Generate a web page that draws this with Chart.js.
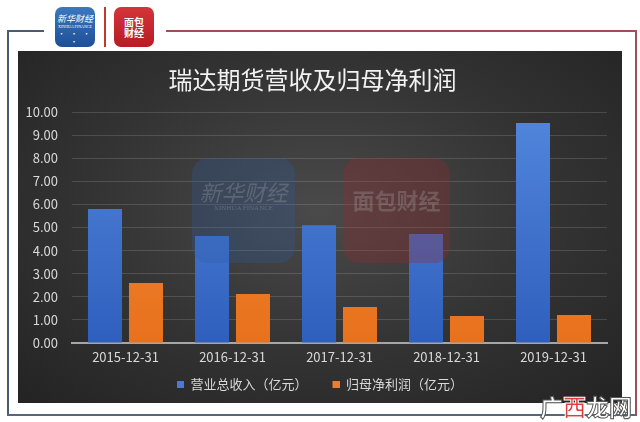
<!DOCTYPE html>
<html>
<head>
<meta charset="utf-8">
<script src="https://cdn.jsdelivr.net/npm/chart.js@4"></script>
<style>
  body { margin: 0; width: 640px; height: 422px; background: #fff; position: relative; overflow: hidden; font-family: "Noto Sans CJK SC", sans-serif; }
  .line { position: absolute; }
  .logo { position: absolute; border-radius: 7px; color: #fff; text-align: center; overflow: hidden; }
  .panel { position: absolute; left: 18px; top: 51px; width: 604px; height: 352px;
    background: radial-gradient(ellipse 70% 75% at 50% 45%, #4a4a4a 0%, #333 55%, #242424 100%); }
  .wm { position: absolute; border-radius: 16px; pointer-events: none; text-align: center; }
</style>
</head>
<body>
<!-- frame -->
<div class="line" style="left:7px;top:30px;width:37px;height:2px;background:#4a5d70"></div>
<div class="line" style="left:7px;top:30px;width:2px;height:386px;background:#4a5d70"></div>
<div class="line" style="left:7px;top:414px;width:630px;height:2px;background:#55687a"></div>
<div class="line" style="left:166px;top:30px;width:471px;height:2px;background:#a34d57"></div>
<div class="line" style="left:635px;top:30px;width:2px;height:386px;background:#a34d57"></div>
<div class="line" style="left:104px;top:7px;width:2px;height:40px;background:#c0392b"></div>

<!-- logos -->
<div class="logo" style="left:55px;top:7px;width:40px;height:40px;background:linear-gradient(#3a78c0,#1e4f96)">
  <div style="font-size:9px;font-style:italic;margin-top:7px;line-height:10px">新华财经</div>
  <div style="font-size:4px;line-height:5px;font-family:'Liberation Serif'">XINHUA FINANCE</div>
  <div style="font-size:7px;line-height:8px;letter-spacing:2px">· · · ·</div>
</div>
<div class="logo" style="left:114px;top:7px;width:40px;height:40px;background:linear-gradient(#d4343a,#b71c24)">
  <div style="font-size:10px;line-height:11px;margin-top:9px;font-weight:bold">面包</div>
  <div style="font-size:10px;line-height:11px;font-weight:bold">财经</div>
</div>

<div class="panel">
  <canvas id="myChart" width="604" height="352"></canvas>
</div>

<!-- watermarks over the chart -->
<div class="wm" style="left:192px;top:158px;width:103px;height:105px;background:rgba(45,95,165,0.28)">
  <div style="font-size:22px;margin-top:20px;line-height:26px;color:rgba(170,170,170,0.3);font-style:italic">新华财经</div>
  <div style="font-size:7px;line-height:9px;color:rgba(170,170,170,0.35);font-family:'Liberation Serif'">XINHUA FINANCE</div>
</div>
<div class="wm" style="left:343px;top:158px;width:107px;height:105px;background:rgba(150,40,45,0.32)">
  <div style="font-size:22px;margin-top:28px;line-height:26px;color:rgba(170,170,170,0.3);font-weight:bold">面包财经</div>
</div>
<div style="position:absolute;left:540px;top:393px;width:100px;white-space:nowrap;font-size:23px;line-height:26px;color:#fff;-webkit-text-stroke:1px #555;font-weight:bold">广<span style="color:#d8403a;-webkit-text-stroke:1px #fff">西</span>龙网</div>

<script>
let categories = ["2015-12-31", "2016-12-31", "2017-12-31", "2018-12-31", "2019-12-31"];
let revenue = [5.8, 4.63, 5.1, 4.72, 9.52];
let netProfit = [2.6, 2.12, 1.56, 1.17, 1.21];
let yTicks = [0, 1, 2, 3, 4, 5, 6, 7, 8, 9, 10];
let seriesNames = ["营业总收入（亿元）", "归母净利润（亿元）"];

// small square legend marker with blank space in front of it
makeMarker = (color) => {
  let c = document.createElement("canvas");
  c.width = 22;
  c.height = 7;
  let g = c.getContext("2d");
  g.fillStyle = color;
  g.fillRect(15, 0, 7, 7);
  return c;
};

barGradient = (top, bottom) => {
  return (context) => {
    let area = context.chart.chartArea;
    if (!area) return bottom;
    let g = context.chart.ctx.createLinearGradient(0, area.top, 0, area.bottom);
    g.addColorStop(0, top);
    g.addColorStop(1, bottom);
    return g;
  };
};

let markers = [makeMarker("#4a7bd0"), makeMarker("#ee7d31")];
let font = "'Noto Sans CJK SC', sans-serif";

var ctx = document.getElementById("myChart").getContext("2d");
var chart = new Chart(ctx, {
  type: "bar",
  data: {
    labels: categories,
    datasets: [
      {
        label: seriesNames[0],
        data: revenue,
        backgroundColor: barGradient("#5286dc", "#2f5fbd"),
      },
      {
        label: seriesNames[1],
        data: netProfit,
        backgroundColor: barGradient("#f38b3c", "#e8711c"),
      },
    ],
  },
  options: {
    responsive: false,
    animation: false,
    layout: { padding: { left: 0, right: 15, top: 0, bottom: 2.5 } },
    datasets: { bar: { categoryPercentage: 0.766, barPercentage: 0.83 } },
    plugins: {
      title: {
        display: true,
        text: "瑞达期货营收及归母净利润",
        color: "#f2f2f2",
        font: { family: font, size: 24, weight: "normal", lineHeight: 1.2 },
        padding: { top: 14.6, bottom: 17.6 },
      },
      legend: {
        position: "bottom",
        labels: {
          color: "#d9d9d9",
          font: { family: font, size: 13 },
          padding: 10,
          usePointStyle: true,
          pointStyleWidth: 22,
          boxHeight: 7,
          generateLabels: (c) => {
            let items = Chart.defaults.plugins.legend.labels.generateLabels(c);
            items.forEach((it, i) => { it.pointStyle = markers[i]; });
            return items;
          },
        },
      },
      tooltip: { enabled: false },
    },
    scales: {
      x: {
        grid: { display: false, drawTicks: false },
        border: { display: true, color: "#a6a6a6", width: 2 },
        ticks: { color: "#d9d9d9", font: { family: font, size: 13 }, padding: 6.2, maxRotation: 0 },
        afterFit: (scale) => { scale.height = 24.5; },
      },
      y: {
        min: 0,
        max: 10,
        afterBuildTicks: (scale) => { scale.ticks = yTicks.map((v) => ({ value: v })); },
        grid: { color: "rgba(255,255,255,0.14)", lineWidth: 1, drawTicks: false },
        border: { display: false },
        ticks: {
          color: "#d9d9d9",
          font: { family: font, size: 13 },
          padding: 14,
          callback: (v) => v.toFixed(2),
        },
        afterFit: (scale) => { scale.width = 54; },
      },
    },
  },
});
</script>
</body>
</html>
